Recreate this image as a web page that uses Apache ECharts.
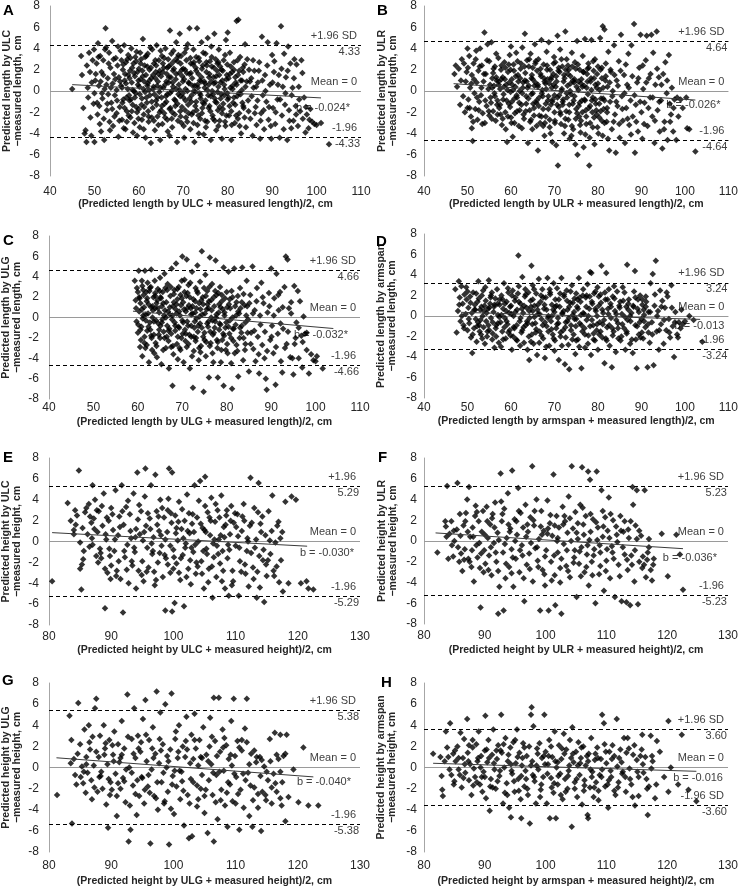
<!DOCTYPE html>
<html><head><meta charset="utf-8">
<script src="https://cdn.jsdelivr.net/npm/echarts@6/dist/echarts.min.js"></script>
<style>html,body{margin:0;padding:0;background:#fff}#c{width:741px;height:889px}</style>
</head><body><div id="c"></div>
<script>
// ---------- DATA ----------
const letters = ['A','B','C','D','E','F','G','H'];
const xTitles = [
 '(Predicted length by ULC + measured length)/2, cm',
 '(Predicted length by ULR + measured length)/2, cm',
 '(Predicted length by ULG + measured length)/2, cm',
 '(Predicted length by armspan + measured length)/2, cm',
 '(Predicted height by ULC + measured height)/2, cm',
 '(Predicted height by ULR + measured height)/2, cm',
 '(Predicted height by ULG + measured height)/2, cm',
 '(Predicted height by armspan + measured height)/2, cm'];
const yTitles = [
 'Predicted length by ULC\n\u2212measured length, cm',
 'Predicted length by ULR\n\u2212measured length, cm',
 'Predicted length by ULG\n\u2212measured length, cm',
 'Predicted length by armspan\n\u2212measured length, cm',
 'Predicted height by ULC\n\u2212measured height, cm',
 'Predicted height by ULR\n\u2212measured height, cm',
 'Predicted height by ULG\n\u2212measured height, cm',
 'Predicted height by armspan\n\u2212measured height, cm'];
const xRanges = [[40,110],[40,110],[40,110],[40,110],[80,130],[80,130],[80,130],[80,130]];
const yRange = [-8, 8];
const sdLabels = ['4.33','4.64','4.66','3.24','5.29','5.23','5.38','3.60'];
const upperLabels = ['+1.96 SD','+1.96 SD','+1.96 SD','+1.96 SD','+1.96','+1.96 SD','+1.96 SD','+1.96 SD'];
const lowerLabels = ['-1.96','-1.96','-1.96','-1.96','-1.96','-1.96','-1.96','-1.96 SD'];
const meanLabel = 'Mean = 0';
const slopeLabels = ['b = -0.024*','b = -0.026*','b = -0.032*','b = -0.013','b = -0.030*','b = -0.036*','b = -0.040*','b = -0.016'];

const regA = [[45,0.6],[101,-0.65]];
const regB = [[46.8,0.69],[102.4,-0.85]];
const regC = [[58.9,0.62],[104,-1.08]];
const regD = [[48.5,0.36],[103.5,-0.33]];
const regE = [[80.5,0.85],[121.5,-0.45]];
const regF = [[81.9,0.78],[122.6,-0.74]];
const regG = [[81.2,0.92],[122.5,-0.89]];
const regH = [[81.5,0.4],[124.8,-0.36]];

const ptsA = [[45,0.2],[47,3.3],[47.2,1.5],[47.5,-1.6],[47.8,-4.0],[48,-3.7],[48.2,-4.8],[48.3,2.4],[48.5,0.3],[48.6,-0.6],[48.8,3.6],[49,1.8],[49.1,-2.5],[49.3,-4.2],[49.4,0.8],[49.6,2.9],[49.8,-1.2],[49.9,3.9],[50,-0.2],[50,-4.8],[50.2,1.0],
[50.5,2.6],[50.7,-2.2],[50.8,4.5],[51,0.5],[51.1,-1.4],[51.3,3.3],[51.5,-3.8],[51.6,1.8],[51.8,-0.7],[52,2.9],[52.1,-2.6],[52.3,0.2],[52.5,5.9],[52.6,4.1],[52.8,-1.8],[53,1.2],[53.1,-0.3],[53.3,3.6],[53.4,-2.9],[53.6,2.2],[53.8,-1.1],[54,4.7],[54.1,0.7],[54.2,-3.3],[54.4,1.6],[54.6,-0.4],[54.8,3.1],[55,-2.1],[55,0.1],[55.2,2.4],
[55.4,-4.3],[55.5,1.3],[55.7,-1.5],[55.9,3.8],[56,0.5],[56.2,-2.7],[56.4,2.0],[56.5,-0.8],[56.7,4.3],[56.8,1.0],[57,-3.6],[57.1,2.7],[57.3,-1.9],[57.5,0.2],[57.6,3.4],[57.8,-0.4],[58,1.9],[58.1,-2.5],[58.3,4.0],[58.4,0.8],[58.6,-1.3],[58.8,2.6],[59,-3.0],[59.1,1.4],[59.3,-0.2],[59.5,3.7],[59.6,-4.2],[59.8,0.6],[60,2.1],[60,-1.7],
[60.2,-3.4],[60.4,1.1],[60.5,3.0],[60.7,-0.7],[60.9,4.9],[61,0.2],[61.1,-2.2],[61.3,2.4],[61.5,-4.4],[61.6,1.5],[61.8,-1.1],[62,3.5],[62,0.7],[62.2,-2.9],[62.4,2.0],[62.5,-0.4],[62.7,-4.9],[62.8,1.2],[63,3.9],[63.1,-1.6],[63.3,0.4],[63.4,2.6],[63.6,-3.7],[63.8,1.8],[63.9,-0.9],[64,4.3],[64.2,-2.4],[64.3,0.9],[64.5,2.9],[64.6,-0.1],[64.8,-4.6],[65,1.4],[65,-1.8],[65.2,3.3],
[65.3,-3.1],[65.5,0.3],[65.6,2.2],[65.8,-1.2],[66,4.0],[66.1,-0.5],[66.3,1.6],[66.4,-2.7],[66.6,3.0],[66.7,0.8],[66.9,-4.2],[67,5.7],[67.1,-1.6],[67.2,2.5],[67.4,0.0],[67.5,-3.4],[67.7,1.9],[67.8,3.8],[68,-0.8],[68.1,-2.2],[68.3,1.1],[68.4,4.6],[68.6,-4.8],[68.7,2.8],[68.9,-0.3],[69,0.6],[69.2,5.4],[69.3,-1.9],[69.5,3.3],[69.6,-3.0],[69.8,1.4],[70,-0.6],[70,2.1],[70.2,-4.4],
[70.3,3.6],[70.5,0.2],[70.6,-2.5],[70.8,1.7],[71,4.4],[71.1,-1.3],[71.3,0.7],[71.4,5.9],[71.6,-3.6],[71.7,2.6],[71.9,-0.4],[72,1.2],[72.2,-2.0],[72.3,3.9],[72.5,-4.8],[72.6,0.5],[72.8,2.2],[72.9,-1.0],[73.1,5.9],[73.2,-3.2],[73.4,1.6],[73.5,3.1],[73.7,-0.2],[73.8,-2.6],[74,0.9],[74.1,4.6],[74.3,-1.6],[74.4,2.4],[74.6,-4.1],[74.8,0.3],[75,3.5],[75,-0.9],
[75.2,1.8],[75.4,-2.9],[75.5,5.0],[75.7,0.6],[75.9,-1.4],[76,2.8],[76.2,-4.6],[76.3,4.2],[76.5,0.0],[76.6,-2.3],[76.8,1.3],[77,5.4],[77.1,-0.7],[77.3,3.0],[77.4,-3.7],[77.6,1.9],[77.8,-1.8],[77.9,0.4],[78,3.9],[78.2,-2.8],[78.3,2.3],[78.5,-0.3],[78.7,-4.5],[78.8,1.0],[79,-1.2],[79.1,2.9],[79.3,0.2],[79.5,-3.3],[79.6,4.8],[79.8,1.5],[80,-0.8],[80,5.5],
[80.3,-2.3],[80.5,3.6],[80.6,0.3],[80.8,-4.6],[81,1.8],[81.2,-1.1],[81.4,2.7],[81.6,-3.0],[81.8,0.8],[82,6.6],[82.1,-0.5],[82.3,1.5],[82.4,6.7],[82.6,-2.1],[82.8,3.2],[83,-4.0],[83.2,0.1],[83.4,2.2],[83.6,-1.6],[83.9,4.4],[84.1,-3.4],[84.3,0.9],[84.6,-0.9],[84.8,2.0],
[85.1,-2.6],[85.3,1.2],[85.6,-4.2],[85.8,0.3],[86,1.9],[86.3,-1.5],[86.5,-3.2],[86.8,0.8],[87,1.9],[87.3,-4.5],[87.5,-2.1],[87.7,5.1],[87.9,-0.4],[88.2,-3.6],[88.4,1.5],[88.7,-1.0],[89,4.6],[89.2,-2.7],[89.5,0.6],[89.8,-4.5],[90,3.4],
[90.2,-1.6],[90.5,2.8],[90.7,-3.1],[91,4.5],[91.2,-0.8],[91.5,1.5],[91.7,-4.4],[92,6.1],[92.2,-2.3],[92.4,0.4],[92.7,3.5],[92.9,-1.3],[93.1,1.3],[93.4,-4.6],[93.6,4.2],[93.8,-1.8],[94.1,2.6],[94.3,-3.5],[94.6,0.3],[94.8,-2.8],
[95,3.0],[95.3,-1.4],[95.5,2.5],[95.8,-3.3],[96,0.4],[96.3,-1.9],[96.6,2.9],[96.9,-2.6],[97.2,-0.6],[97.5,-3.9],[97.8,-2.2],[98.2,-3.5],[98.6,-1.7],[99,-2.9],[99.5,-3.1],[100,-3.2],[101,-3.0],[102.8,-5.0]];
const ptsA2 = [[50.3,1.6],[50.6,-1.1],[50.9,3.2],[51.2,-3.1],[51.4,0.9],[51.7,-0.2],[52,1.5],[52.2,-4.6],[52.4,3.9],[52.7,0.6],[52.9,-1.2],[53.2,2.6],[53.5,-3.7],[53.7,0.3],[54,-1.7],[54.3,3.0],[54.5,-2.4],[54.7,1.1],[55.1,-0.9],[55.3,4.2],
[55.6,-2.8],[55.8,0.9],[56.1,2.9],[56.3,-1.1],[56.6,-3.5],[56.9,1.6],[57.2,-0.6],[57.4,3.0],[57.7,-2.3],[57.9,1.2],[58.2,-0.8],[58.5,2.2],[58.7,-3.9],[58.9,0.0],[59.2,3.2],[59.4,-1.5],[59.7,1.8],[59.9,-2.6],[60.1,0.4],[60.3,3.6],
[60.6,-1.3],[60.8,1.9],[61.1,-3.6],[61.2,0.9],[61.4,3.2],[61.7,-0.6],[61.9,2.3],[62.1,-1.9],[62.3,0.1],[62.6,4.1],[62.9,-2.5],[63.2,1.5],[63.5,-0.3],[63.7,2.9],[64,-1.3],[64.1,0.5],[64.4,-3.2],[64.7,1.9],[64.9,3.8],[65.1,-0.6],
[65.4,2.6],[65.7,-2.1],[65.9,0.6],[66.2,-1.0],[66.4,2.2],[66.5,-3.8],[66.8,1.3],[67,-0.2],[67.3,3.5],[67.5,-2.0],[67.6,0.8],[67.9,2.1],[68.2,-1.4],[68.4,0.2],[68.6,3.1],[68.8,-2.8],[69.1,1.7],[69.3,-0.5],[69.4,2.6],[69.7,-1.5],
[69.9,0.9],[70.1,-3.3],[70.4,2.0],[70.5,-0.9],[70.7,4.0],[70.9,0.0],[71.2,-2.1],[71.4,1.6],[71.6,3.1],[71.8,-1.0],[72.1,0.5],[72.3,-3.0],[72.4,2.7],[72.7,-0.1],[72.9,1.9],[73,-1.8],[73.3,0.3],[73.5,-4.0],[73.6,2.8],[73.9,-0.7],
[74.1,1.3],[74.2,-2.1],[74.5,3.6],[74.7,-1.2],[74.9,0.7],[75.1,-3.4],[75.3,2.4],[75.6,-0.4],[75.8,1.3],[76.1,-1.9],[76.3,0.9],[76.4,3.2],[76.7,-0.3],[76.9,2.2],[77.1,-2.8],[77.2,0.8],[77.5,-1.1],[77.7,2.6],[77.9,-3.3],[78.1,1.5],
[78.4,-0.7],[78.6,2.0],[78.9,-1.7],[79.2,0.6],[79.4,3.4],[79.7,-2.3],[79.9,-0.2],[80.2,1.2],[80.4,-1.4],[80.7,2.3],[80.9,-3.2],[81.1,0.5],[81.4,-0.6],[81.7,1.3],[81.9,-2.3],[82.2,2.9],[82.5,-0.2],[82.7,-3.3],[82.9,1.0],[83.3,-1.1],
[83.5,1.8],[83.8,-2.5],[84,0.4],[84.4,3.0],[84.7,-1.9],[85,0.9],[85.4,-0.5],[85.7,2.9],[86.1,-2.1],[86.4,0.4],[86.7,-0.9],[87.1,2.7],[87.4,-2.8],[87.8,1.0],[88.1,-1.8],[88.5,0.0],[88.9,2.4],[89.3,-1.5],[89.7,-3.3],[90.1,0.8],
[90.4,1.8],[90.8,-2.0],[91.3,0.6],[91.8,-0.8],[92.1,2.1],[92.6,-3.6],[93,-0.2],[93.5,1.9],[93.9,-2.8],[94.4,-0.4],[94.9,1.2],[95.4,-2.2],[96.1,-0.8],[96.8,1.7],[97.6,-1.5],[98.4,-2.7]];
const ptsA3 = [[56.2,0.3],[56.5,2.5],[56.8,-1.6],[57.1,0.7],[57.3,-2.9],[57.6,1.5],[57.9,-0.9],[58.1,3.1],[58.4,-1.9],[58.6,0.1],[58.9,1.7],[59.1,-0.6],[59.4,2.8],[59.6,-2.0],[59.9,1.0],[60.2,-0.3],[60.4,2.6],[60.7,-2.7],[60.9,1.4],[61.2,-1.5],
[61.4,-0.1],[61.7,3.3],[61.9,0.5],[62.2,-2.4],[62.4,1.0],[62.7,2.2],[62.9,-1.0],[63.2,0.2],[63.4,-2.8],[63.7,1.2],[63.9,2.4],[64.2,-0.6],[64.4,1.6],[64.7,-2.0],[64.9,0.3],[65.2,-1.4],[65.4,1.8],[65.7,3.1],[65.9,-2.5],[66.2,0.9],
[66.4,-0.3],[66.7,2.3],[66.9,-1.7],[67.2,1.3],[67.4,-2.6],[67.7,0.4],[67.9,2.8],[68.2,-0.9],[68.4,1.6],[68.7,-1.2],[68.9,3.4],[69.2,0.1],[69.4,-2.4],[69.7,2.0],[69.9,-0.2],[70.2,1.1],[70.4,-1.8],[70.7,2.9],[70.9,-2.9],[71.2,0.8],
[71.4,-0.7],[71.7,1.7],[71.9,-2.2],[72.2,2.5],[72.4,0.0],[72.7,-1.4],[72.9,3.2],[73.2,0.6],[73.4,-2.3],[73.7,1.0],[73.9,-0.4],[74.2,2.1],[74.4,-1.1],[74.7,0.9],[74.9,-2.8],[75.2,2.7],[75.4,0.1],[75.7,-1.6],[75.9,1.6],[76.2,-0.5],
[76.4,2.3],[76.7,-2.6],[76.9,0.7],[77.2,-1.0],[77.4,1.4],[77.7,-0.1],[77.9,2.7],[78.2,-1.5],[78.4,0.8],[78.7,-2.1],[78.9,1.9],[79.2,-0.4],[79.4,-2.9],[79.7,1.1],[79.9,2.5],[80.2,-0.6],[80.5,1.6],[80.8,-1.9],[81.1,0.2],[81.4,2.0],
[81.7,-1.3],[82,0.6],[82.3,-2.6],[82.6,1.9],[82.9,-0.3],[83.2,1.0],[83.5,-1.4],[83.8,2.5]];

const ptsB = [[47,1.6],[47.3,2.4],[47.6,0.4],[48,2.1],[48.3,-1.3],[48.5,1.0],[48.7,3.0],[49,-0.5],[49.2,2.6],[49.4,-2.0],[49.6,0.9],[49.8,1.8],[50,-1.6],[50,4.0],
[50.2,-0.8],[50.4,3.3],[50.6,0.3],[50.8,-2.4],[51,1.5],[51,-3.5],[51.2,-4.7],[51.4,2.6],[51.6,-0.2],[51.8,-1.7],[52,3.8],[52.1,0.8],[52.3,-2.7],[52.5,1.9],[52.7,-1.0],[52.9,4.0],[53.1,-0.4],[53.3,2.4],[53.5,-2.1],[53.7,0.9],[53.9,5.5],[54,-3.0],[54.2,1.6],[54.4,-1.4],[54.6,4.4],[54.8,0.2],[55,-2.3],[55,2.8],
[55.3,-0.6],[55.5,4.6],[55.7,1.2],[55.9,-1.9],[56.1,0.5],[56.3,2.3],[56.5,-2.8],[56.7,1.0],[56.9,-0.9],[57.1,3.1],[57.3,-1.6],[57.5,0.2],[57.7,2.0],[57.9,-3.2],[58.1,1.3],[58.3,-0.3],[58.5,2.7],[58.7,-2.0],[58.9,0.6],[59.1,-4.8],[59.3,1.8],[59.5,-1.2],[59.7,3.4],[59.9,-0.1],[60,4.2],[60,-2.5],
[60.2,1.1],[60.4,-4.3],[60.6,2.5],[60.8,-0.7],[61,0.4],[61.2,3.6],[61.4,-1.9],[61.6,1.5],[61.8,-3.3],[62,0.0],[62.2,2.1],[62.4,-1.3],[62.6,4.1],[62.8,0.8],[63,-2.6],[63.2,5.4],[63.3,1.7],[63.5,-0.5],[63.7,2.9],[63.9,-4.9],[64.1,0.5],[64.3,-1.8],[64.5,3.5],[64.7,1.2],[64.9,-3.6],[65,-0.2],[65,2.2],
[65.3,-2.3],[65.5,4.4],[65.6,0.8],[65.8,-1.1],[66,1.9],[66.2,-5.6],[66.3,3.0],[66.5,-0.6],[66.7,-3.0],[66.9,1.4],[67,4.8],[67.2,0.1],[67.4,-1.7],[67.5,2.5],[67.7,-4.2],[67.9,0.7],[68,-2.4],[68.2,3.7],[68.4,1.1],[68.5,-0.9],[68.7,4.6],[68.9,-3.4],[69,2.0],[69.2,-1.3],[69.4,0.3],[69.5,-4.8],[69.7,1.6],[69.9,3.2],[70,-0.4],[70,-2.0],
[70.2,2.7],[70.4,-5.1],[70.5,0.9],[70.7,5.2],[70.8,-7.0],[71,-1.5],[71.2,1.8],[71.3,3.9],[71.5,-3.1],[71.7,0.2],[71.8,2.3],[72,-0.8],[72.2,-4.0],[72.3,1.2],[72.5,5.6],[72.7,-1.9],[72.8,3.0],[73,0.5],[73.2,-2.7],[73.3,2.0],[73.5,-4.5],[73.7,1.4],[73.8,-0.3],[74,3.6],[74.2,-1.2],[74.3,-3.6],[74.5,0.8],[74.7,2.7],[74.8,-5.0],[75,-1.7],
[75.2,4.7],[75.3,-6.0],[75.5,0.1],[75.7,-2.4],[75.8,2.0],[76,-3.9],[76.2,1.1],[76.3,-0.9],[76.5,3.3],[76.7,-5.3],[76.8,0.5],[77,4.9],[77.2,-1.8],[77.3,-3.1],[77.5,1.6],[77.7,-0.3],[77.8,2.6],[78,-7.0],[78.1,-4.4],[78.3,0.9],[78.5,4.8],[78.7,-2.0],[78.8,-0.6],[79,1.9],[79.2,-5.0],[79.3,3.0],[79.5,-1.2],[79.7,0.3],[79.9,-3.4],[80,2.3],
[80.3,-2.5],[80.5,5.0],[80.7,-0.7],[80.9,1.2],[81.1,6.1],[81.1,-4.2],[81.3,-1.7],[81.5,5.8],[81.8,2.6],[82,-2.9],[82.2,0.4],[82.4,3.7],[82.6,-5.6],[82.8,-1.0],[83,1.8],[83.2,-3.6],[83.4,0.0],[83.7,4.3],[83.9,-2.2],[84.1,-5.8],[84.3,1.0],[84.5,-1.4],[84.8,2.8],[85,-4.4],
[85.3,5.3],[85.5,-0.5],[85.7,-2.8],[86,1.5],[86.2,-4.9],[86.5,-1.6],[86.7,0.6],[87,3.5],[87.2,-3.2],[87.5,-0.9],[87.7,4.3],[88,-2.4],[88.3,6.3],[88.5,-5.8],[88.7,-1.3],[89,0.8],[89.2,-3.8],[89.5,2.2],[89.8,5.3],[90,-2.0],
[90.2,-4.5],[90.4,0.2],[90.7,-1.1],[91,2.9],[91.2,5.2],[91.4,-3.3],[91.7,1.2],[92,-0.6],[92.3,5.3],[92.5,-2.4],[92.7,3.6],[93,-4.9],[93.2,0.6],[93.5,5.6],[93.7,-1.8],[94,1.3],[94.2,-3.8],[94.5,-0.9],[94.8,-5.4],[95,1.6],
[95.3,-2.9],[95.5,2.7],[95.8,-0.2],[96,-4.6],[96.3,3.4],[96.5,-1.2],[96.8,-2.2],[97,0.3],[97.3,-3.8],[97.6,-0.8],[98,-4.6],[98.5,-2.4],[99,-0.8],[99.5,-1.6],[100.3,-0.6],[100.5,-3.5],[101,-3.6],[102.4,-5.7]];
const ptsB2 = [[50.1,2.2],[50.5,-1.6],[50.9,0.7],[51.3,-2.9],[51.5,1.1],[51.9,3.0],[52.2,-0.6],[52.6,-1.8],[52.8,2.3],[53.2,0.3],[53.4,-3.1],[53.8,1.6],[54.1,-0.9],[54.5,2.9],[54.9,-1.9],[55.2,0.6],[55.6,-2.6],[55.9,1.7],[56.2,-0.2],[56.6,3.5],
[56.8,-1.3],[57.2,0.9],[57.6,-2.2],[57.8,2.4],[58.2,-0.8],[58.6,1.1],[58.8,-3.6],[59.2,0.1],[59.5,2.5],[59.8,-1.5],[60.1,-3.0],[60.3,0.6],[60.7,1.9],[60.9,-2.1],[61.3,-0.4],[61.5,2.8],[61.9,-1.1],[62.1,1.2],[62.5,-3.5],[62.7,0.3],
[63.1,2.3],[63.4,-1.9],[63.6,0.9],[64,-0.7],[64.2,3.0],[64.6,-2.7],[64.8,1.5],[65.1,-1.2],[65.4,0.5],[65.7,2.8],[65.9,-3.3],[66.2,0.6],[66.4,-1.4],[66.8,2.1],[67,-2.4],[67.3,-0.5],[67.6,1.2],[67.8,-3.0],[68.1,0.2],[68.3,2.4],
[68.6,-1.7],[68.8,0.7],[69.1,-4.0],[69.3,1.3],[69.6,-0.8],[69.8,2.6],[70.1,-2.8],[70.3,0.4],[70.6,-1.3],[70.9,1.9],[71.1,-0.4],[71.4,-2.2],[71.6,3.0],[71.9,-1.3],[72.1,0.9],[72.4,-3.3],[72.6,2.0],[72.9,-0.6],[73.1,1.6],[73.4,-2.0],
[73.6,0.0],[73.9,-4.2],[74.1,2.3],[74.4,-0.9],[74.6,1.1],[74.9,-2.6],[75.1,0.4],[75.4,2.5],[75.6,-1.4],[75.9,-3.2],[76.1,0.7],[76.4,-2.0],[76.6,1.8],[76.9,-0.8],[77.1,-4.1],[77.4,0.3],[77.6,2.1],[77.9,-1.6],[78.2,-3.0],[78.4,1.2],
[78.6,-0.9],[78.9,2.8],[79.1,-2.5],[79.4,0.6],[79.6,-1.8],[79.8,1.6],[80.1,-4.0],[80.4,0.1],[80.6,-1.9],[80.9,2.2],[81.2,-0.7],[81.5,-3.0],[81.7,1.0],[82.1,-1.6],[82.3,-4.5],[82.7,0.8],[82.9,2.0],[83.3,-0.5],[83.6,-2.9],[83.8,1.5],
[84.2,-1.0],[84.6,0.5],[84.9,-3.1],[85.2,1.9],[85.6,-1.7],[86.1,-0.2],[86.4,2.5],[86.8,-2.6],[87.1,0.3],[87.6,-4.1],[87.9,1.4],[88.4,-0.4],[88.8,-2.9],[89.3,1.2],[89.7,-1.0],[90.3,2.4],[90.6,-3.1],[91.1,0.8],[91.6,-1.6],[92.1,1.6],
[92.6,-0.6],[93.1,-2.8],[93.6,2.1],[94.1,-1.0],[94.6,0.6],[95.2,-3.6],[95.9,1.0],[96.6,-2.9],[97.4,-1.6],[98.2,-0.6]];
const ptsB3 = [[55.4,-1.1],[55.7,0.3],[56,2.1],[56.3,-0.5],[56.6,1.3],[56.9,-2.2],[57.2,0.6],[57.5,-1.3],[57.8,1.1],[58.1,-2.6],[58.4,0.4],[58.7,2.2],[59,-0.9],[59.3,-2.4],[59.6,0.8],[59.9,2.0],[60.2,-1.0],[60.5,0.1],[60.8,-3.0],[61.1,1.4],
[61.4,-0.6],[61.7,0.9],[62,-1.8],[62.3,2.6],[62.6,-0.2],[62.9,-2.2],[63.2,1.0],[63.5,-1.2],[63.8,0.3],[64.1,2.3],[64.4,-2.9],[64.7,-0.3],[65,1.1],[65.3,-1.6],[65.6,2.6],[65.9,-0.9],[66.2,0.4],[66.5,-2.3],[66.8,1.6],[67.1,-0.2],
[67.4,-3.3],[67.7,0.9],[68,-1.2],[68.3,2.0],[68.6,-0.5],[68.9,-2.7],[69.2,1.1],[69.5,-1.0],[69.8,0.6],[70.1,-3.0],[70.4,1.4],[70.7,-0.6],[71,2.2],[71.3,-2.0],[71.6,0.0],[71.9,-1.0],[72.2,1.5],[72.5,-2.6],[72.8,-0.2],[73.1,2.4],
[73.4,-1.3],[73.7,0.7],[74,-3.3],[74.3,1.0],[74.6,-0.5],[74.9,2.1],[75.2,-2.1],[75.5,0.9],[75.8,-1.1],[76.1,-2.8],[76.4,0.4],[76.7,1.8],[77,-0.9],[77.3,-2.4],[77.6,0.9],[77.9,2.2],[78.2,-1.4],[78.5,0.1],[78.8,-3.4],[79.1,1.2],
[79.4,-0.8],[79.7,-2.2],[80,0.7],[80.3,-1.2],[80.6,2.0],[80.9,-2.8],[81.2,0.3],[81.5,-0.9],[81.8,1.4],[82.1,-2.0]];

const ptsC = [[59.3,3.6],[59.5,1.7],[59.7,-0.4],[60,2.5],[60,-1.5],[60.2,4.6],[60.3,0.6],[60.5,-2.9],[60.6,1.4],[60.8,-0.9],[61,3.1],[61,-3.8],[61.2,0.2],[61.3,2.2],[61.5,-1.9],[61.6,4.6],[61.8,-0.3],[62,1.6],[62,-2.7],[62.2,3.4],
[62.3,0.4],[62.5,-4.4],[62.6,2.6],[62.8,-1.2],[63,1.0],[63,4.7],[63.2,-3.2],[63.3,0.0],[63.5,2.0],[63.6,-1.7],[63.8,3.6],[63.9,0.9],[64,-2.5],[64.2,1.4],[64.3,-3.9],[64.5,2.8],[64.6,-0.6],[64.8,0.5],[65,3.9],[65,-2.0],
[65.2,1.9],[65.3,-4.6],[65.5,-0.2],[65.6,2.5],[65.8,-1.4],[66,4.3],[66.1,0.7],[66.3,-3.0],[66.4,1.5],[66.6,-0.8],[66.7,3.3],[66.9,-2.3],[67,-5.0],[67.2,0.3],[67.3,2.1],[67.5,-1.6],[67.6,4.8],[67.8,-6.7],[67.9,1.1],[68,-3.6],[68.2,2.7],[68.3,-0.5],[68.5,0.8],[68.6,5.3],[68.8,-2.6],[68.9,1.8],[69,-4.1],[69.2,3.0],[69.3,-1.0],[69.5,0.2],[69.6,2.2],[69.8,-2.0],[70,6.0],[70,-0.3],
[70.2,1.5],[70.3,-4.4],[70.5,3.7],[70.6,-1.2],[70.8,0.6],[71,5.7],[71,-2.9],[71.2,2.4],[71.3,-0.8],[71.5,1.2],[71.7,-5.0],[71.8,3.4],[72,-1.9],[72,0.3],[72.2,4.5],[72.4,-6.9],[72.5,1.8],[72.6,-3.3],[72.8,-0.4],[73,2.9],[73,-2.3],[73.2,0.9],[73.4,5.1],[73.5,-1.4],[73.7,-4.2],[73.8,1.4],[74,3.5],[74,-0.6],[74.2,-2.8],[74.4,6.5],[74.5,0.3],[74.6,2.0],[74.8,-7.3],[75,-1.5],
[75.2,4.2],[75.3,-3.8],[75.5,0.8],[75.6,2.6],[75.8,-0.9],[76,-5.9],[76,1.6],[76.2,5.9],[76.4,-2.5],[76.5,0.0],[76.7,3.3],[76.9,-1.7],[77,-4.4],[77.2,1.1],[77.4,-0.4],[77.5,5.6],[77.7,2.2],[77.9,-3.0],[78,-5.9],[78.2,0.5],[78.3,-1.2],[78.5,3.0],[78.7,-4.4],[78.9,1.6],[79,-2.2],[79.3,-6.7],[79.3,4.9],[79.5,0.2],[79.7,-1.0],[80,2.5],
[80.2,-3.5],[80.4,4.5],[80.6,-1.6],[80.8,0.9],[81,-4.5],[81.2,-7.0],[81.3,2.0],[81.5,-2.3],[81.7,4.8],[82,-0.7],[82.2,1.5],[82.4,-3.3],[82.6,-5.8],[82.8,0.4],[83,2.9],[83.3,-1.5],[83.5,4.9],[83.7,-4.2],[84,1.2],[84.2,-2.6],[84.5,3.6],[84.8,-0.2],
[85,-5.3],[85.3,2.2],[85.5,-1.5],[85.8,5.0],[86,-3.1],[86.3,0.7],[86.5,-4.3],[86.8,2.9],[87,-1.9],[87.3,-5.5],[87.5,0.2],[87.8,3.4],[88,-2.7],[88.3,1.4],[88.5,-4.0],[88.8,-6.0],[89,-7.1],[89.2,0.5],[89.5,2.4],[89.8,-2.2],[90,4.8],
[90.2,-0.8],[90.5,-3.5],[90.7,1.9],[91,-6.6],[91.2,4.3],[91.5,-1.6],[91.7,0.7],[92,2.5],[92.2,-4.3],[92.5,-5.4],[92.7,-1.1],[93,3.0],[93.3,6.0],[93.5,-2.6],[93.7,5.7],[94,0.9],[94.3,-3.9],[94.5,1.5],[94.8,-4.0],[95,-5.6],
[95.2,3.1],[95.5,-2.0],[95.7,-0.5],[96,2.6],[96.2,-4.0],[96.5,1.6],[96.8,-1.8],[97,-4.9],[97.3,0.1],[97.6,-1.6],[98,-3.2],[98.5,-5.5],[99,-3.6],[99.5,-4.2],[100,-4.3],[100.3,-3.8],[101.6,-5.0]];
const ptsC2 = [[59.6,0.9],[59.8,2.9],[60.1,-0.7],[60.4,1.9],[60.7,-2.2],[60.9,3.6],[61.1,-0.1],[61.4,1.0],[61.7,-3.0],[61.9,2.5],[62.1,-1.3],[62.4,1.3],[62.7,-0.5],[62.9,3.0],[63.1,-2.0],[63.4,0.7],[63.7,-3.5],[63.9,2.1],[64.1,-0.3],[64.4,1.7],
[64.7,-1.7],[64.9,2.6],[65.1,-0.8],[65.4,1.1],[65.7,-3.2],[65.9,0.2],[66.2,2.9],[66.5,-1.9],[66.8,0.6],[67.1,-1.1],[67.4,3.0],[67.7,-0.2],[67.9,-2.8],[68.1,1.5],[68.4,-1.3],[68.7,0.4],[68.9,2.8],[69.1,-0.9],[69.4,-3.0],[69.7,1.2],
[69.9,3.6],[70.1,-1.6],[70.4,0.8],[70.7,-2.3],[70.9,2.1],[71.1,-0.4],[71.4,3.2],[71.6,-1.7],[71.9,0.9],[72.2,-3.8],[72.3,1.1],[72.7,-1.0],[72.9,0.5],[73.1,-2.0],[73.3,2.6],[73.6,-0.8],[73.9,0.1],[74.1,-3.4],[74.3,1.7],[74.7,-1.9],
[74.9,2.9],[75.1,0.4],[75.4,-2.4],[75.7,1.3],[75.9,-0.4],[76.1,3.0],[76.3,-1.4],[76.6,0.7],[76.8,-3.5],[77.1,2.0],[77.3,-1.0],[77.6,0.0],[77.8,-2.2],[78.1,2.4],[78.4,-0.6],[78.6,1.0],[78.8,-3.2],[79.1,0.8],[79.4,-1.8],[79.6,1.9],
[79.9,-0.5],[80.1,-2.6],[80.5,1.3],[80.7,-0.3],[81.1,2.6],[81.4,-1.1],[81.8,-3.5],[82.1,0.2],[82.5,2.1],[82.9,-2.0],[83.1,0.9],[83.4,-0.8],[83.8,2.3],[84.1,-3.2],[84.4,0.2],[84.7,-1.5],[85.1,1.4],[85.4,-2.6],[85.9,0.4],[86.2,-1.3],
[86.7,1.6],[87.2,-3.6],[87.6,-0.7],[88.1,2.0],[88.6,-1.4],[89.1,-3.3],[89.6,1.1],[90.1,-1.9],[90.6,0.2],[91.1,-2.9],[91.6,2.2],[92.1,-0.6],[92.6,1.0],[93.1,-3.0],[93.8,-1.4],[94.5,0.4],[95.3,-2.6],[96.2,-1.0],[97.1,-2.4],[98,-1.5]];
const ptsC3 = [[60.3,2.0],[60.6,-1.2],[60.9,0.8],[61.2,2.7],[61.5,-2.5],[61.8,0.3],[62.1,1.9],[62.4,-0.9],[62.7,2.9],[63,-1.8],[63.3,1.1],[63.6,-0.4],[63.9,2.4],[64.2,-2.8],[64.5,0.9],[64.8,-1.2],[65.1,2.0],[65.4,-0.5],[65.7,1.4],[66,-2.0],
[66.3,0.0],[66.6,2.7],[66.9,-1.3],[67.2,1.0],[67.5,-2.9],[67.8,0.2],[68.1,2.3],[68.4,-0.8],[68.7,1.3],[69,-1.9],[69.3,0.6],[69.6,-3.2],[69.9,1.9],[70.2,-0.5],[70.5,2.5],[70.8,-1.6],[71.1,0.9],[71.4,-2.6],[71.7,2.0],[72,-0.8],
[72.3,0.4],[72.6,-1.9],[72.9,1.6],[73.2,-0.1],[73.5,2.4],[73.8,-3.0],[74.1,0.8],[74.4,-1.0],[74.7,1.3],[75,-2.2],[75.3,2.1],[75.6,-0.6],[75.9,0.9],[76.2,-2.8],[76.5,1.7],[76.8,-0.3],[77.1,-1.5],[77.4,2.6],[77.7,0.3],[78,-2.4],
[78.3,1.3],[78.6,-0.7],[78.9,2.2],[79.2,-1.6],[79.5,0.5],[79.8,-3.2],[80.1,1.0],[80.4,-0.9],[80.7,1.8],[81,-2.0],[81.3,0.0],[81.6,-1.1],[81.9,1.1],[82.2,-2.7],[82.6,0.6],[83,-1.0],[83.4,1.5],[83.8,-2.0],[84.2,-0.5],[84.6,1.1]];

const ptsD = [[47.2,2.6],[47.5,-1.6],[47.8,0.5],[48,3.4],[48.2,1.8],[48.4,-0.5],[48.6,2.9],[48.9,1.2],[49.1,-0.9],[49.3,2.1],[49.6,0.2],[49.8,1.6],[50,-1.4],[50,2.4],
[50.2,0.8],[50.4,-0.7],[50.6,1.9],[50.8,-2.1],[51,0.3],[51.1,-3.6],[51.3,2.3],[51.5,-1.2],[51.7,1.1],[51.9,-0.3],[52.1,-2.5],[52.3,1.4],[52.5,3.4],[52.7,-0.9],[52.9,0.6],[53.1,-1.8],[53.3,2.0],[53.5,0.0],[53.7,-1.1],[53.9,1.0],[54.1,2.8],[54.3,-0.5],[54.5,-2.0],[54.7,0.7],[54.9,3.5],[55,-1.4],
[55.2,1.2],[55.4,-0.2],[55.6,2.3],[55.8,-1.7],[56,0.4],[56.2,-3.1],[56.4,1.7],[56.6,-0.9],[56.8,2.6],[57,0.1],[57.2,-2.6],[57.4,1.1],[57.6,-0.6],[57.8,2.0],[58,-1.5],[58.2,0.7],[58.4,3.2],[58.6,-0.2],[58.8,-2.2],[59,1.4],[59.2,-0.8],[59.4,2.3],[59.6,0.3],[59.9,-1.9],[60,1.0],
[60.2,-3.3],[60.4,2.5],[60.6,0.0],[60.8,-1.2],[61,1.8],[61.2,-2.3],[61.4,0.6],[61.7,5.9],[61.8,2.9],[62,-0.5],[62.2,1.2],[62.4,-1.6],[62.6,3.8],[62.8,0.3],[63,-2.6],[63.2,1.9],[63.4,-0.9],[63.6,0.8],[63.8,-3.3],[64,2.3],[64.2,-4.3],[64.3,-0.2],[64.5,1.5],[64.7,4.9],[64.8,-1.8],[65,0.5],[65,3.0],
[65.2,-2.7],[65.4,1.0],[65.6,-0.7],[65.8,2.2],[66,-3.8],[66.2,0.2],[66.4,3.6],[66.6,-1.5],[66.8,1.4],[67,-0.3],[67.2,2.6],[67.4,-2.2],[67.6,0.7],[67.8,-4.1],[68,1.8],[68.2,-1.0],[68.4,3.7],[68.6,0.0],[68.8,-2.9],[69,2.1],[69.2,-0.5],[69.4,1.1],[69.6,-1.8],[69.8,3.2],[70,0.4],[70,-3.4],
[70.2,1.6],[70.4,-1.2],[70.6,2.7],[70.8,-0.2],[71,-4.3],[71.2,0.9],[71.4,-2.0],[71.6,3.7],[71.8,0.3],[72,-1.4],[72.2,1.9],[72.4,-4.7],[72.6,-0.6],[72.8,2.5],[73,0.6],[73.2,-2.8],[73.4,-5.2],[73.6,1.3],[73.8,-0.9],[74,3.0],[74.2,0.1],[74.4,-1.8],[74.6,1.7],[74.8,-3.7],[75,-0.3],[75,2.2],
[75.2,0.9],[75.4,-2.3],[75.6,3.7],[75.8,-0.7],[76,1.4],[76.2,-5.1],[76.4,-1.5],[76.6,2.6],[76.8,0.2],[77,-3.1],[77.2,1.8],[77.4,-0.4],[77.6,3.1],[77.8,-1.9],[78,0.7],[78.2,4.3],[78.4,-3.8],[78.5,4.2],[78.7,1.2],[78.9,-0.9],[79.1,2.2],[79.3,-2.4],[79.5,0.5],[79.7,-1.4],[79.9,2.8],[80,-3.3],
[80.2,1.0],[80.4,-0.6],[80.6,2.1],[80.8,4.9],[81,-2.1],[81.2,0.3],[81.5,-4.6],[81.7,1.6],[81.9,4.2],[82.1,-1.1],[82.3,0.7],[82.5,2.6],[82.7,-2.9],[83,-0.2],[83.2,-5.0],[83.4,1.9],[83.6,-1.5],[83.9,0.5],[84.1,-3.5],[84.4,2.4],[84.6,-0.7],[84.9,1.0],
[85.2,-2.4],[85.5,0.2],[85.7,2.8],[86,-1.2],[86.3,-3.3],[86.5,0.9],[86.7,5.0],[86.8,-0.4],[87.1,1.6],[87.4,-2.7],[87.7,0.3],[88,-3.6],[88.3,2.4],[88.5,4.4],[88.6,-0.9],[88.9,-5.1],[89.1,0.7],[89.4,-1.8],[89.7,2.0],[90,-0.3],
[90.2,1.1],[90.4,-2.2],[90.6,0.1],[90.9,-1.1],[91.1,1.4],[91.4,-5.0],[91.6,0.4],[91.9,-2.6],[92.1,3.2],[92.4,-0.6],[92.6,4.1],[92.8,-4.8],[93,1.0],[93.3,5.4],[93.5,-1.5],[93.8,0.5],[94,-3.3],[94.3,2.5],[94.5,-0.8],[94.8,1.5],
[95.1,-2.7],[95.4,0.8],[95.7,-1.4],[96,1.9],[96.3,-0.3],[96.6,-2.1],[96.9,3.0],[97.2,-1.0],[97.5,-4.0],[97.8,0.4],[98.2,-1.8],[98.6,-0.6],[99,-1.2],[99.5,-0.8],[100,-0.5],[101,0.0],[102,-0.4],[104,-2.5]];
const ptsD2 = [[48.1,1.1],[48.7,0.0],[49.2,-1.2],[49.7,2.8],[50.3,-0.3],[50.7,1.3],[51.2,-1.8],[51.6,0.6],[52,2.2],[52.4,-0.6],[52.8,-1.5],[53.2,0.9],[53.6,2.5],[54,-2.7],[54.4,0.3],[54.8,-0.9],[55.3,1.8],[55.7,-2.3],[56.1,0.9],[56.5,-1.2],
[56.9,1.2],[57.3,-0.1],[57.7,-3.0],[58.1,1.6],[58.5,-1.1],[58.9,0.5],[59.3,2.7],[59.7,-1.4],[60.1,0.2],[60.5,-2.0],[60.9,1.5],[61.3,-0.9],[61.6,2.2],[62.1,-2.9],[62.5,0.7],[62.9,-1.1],[63.3,2.6],[63.7,-0.5],[64.1,-2.0],[64.6,0.9],
[64.9,-0.8],[65.3,2.6],[65.7,-1.6],[66.1,0.6],[66.5,-2.6],[66.9,2.0],[67.3,-0.9],[67.7,1.1],[68.1,-3.0],[68.5,-0.2],[68.9,2.6],[69.3,-1.3],[69.7,0.6],[70.1,-2.4],[70.5,1.0],[70.9,-0.7],[71.3,2.2],[71.7,-2.9],[72.1,0.5],[72.5,-1.1],
[72.9,1.5],[73.3,-0.2],[73.7,2.4],[74.1,-2.3],[74.5,0.4],[74.9,-1.0],[75.3,1.6],[75.7,-3.0],[76.1,0.1],[76.5,2.0],[76.9,-1.2],[77.3,0.9],[77.7,-2.7],[78.1,1.9],[78.6,-0.4],[79,-1.7],[79.4,2.4],[79.8,0.0],[80.3,-1.8],[80.7,1.3],
[81.1,-0.8],[81.6,2.3],[82,-2.4],[82.4,0.2],[82.9,1.2],[83.3,-1.2],[83.7,2.9],[84.2,-0.4],[84.7,-2.2],[85.1,1.4],[85.6,-0.8],[86.1,2.3],[86.6,-1.7],[87,0.6],[87.5,-0.5],[88.1,1.0],[88.7,-2.3],[89.2,1.6],[89.6,-0.6],[90.1,-1.6],
[90.5,0.6],[91,1.9],[91.5,-0.8],[92,0.4],[92.5,-1.8],[93.1,2.1],[93.6,0.0],[94.1,-1.4],[94.6,0.9],[95.2,-0.4],[95.8,2.3],[96.4,-1.6],[97,0.8],[97.7,-0.6],[98.4,-2.1],[99.2,0.6]];
const ptsD3 = [[51.8,0.6],[52.2,-1.0],[52.6,1.7],[53,-0.4],[53.4,-2.2],[53.8,0.5],[54.2,1.5],[54.6,-1.5],[55,0.8],[55.4,2.0],[55.8,-0.6],[56.2,1.1],[56.6,-2.0],[57,-0.7],[57.4,1.6],[57.8,0.1],[58.2,-2.3],[58.6,1.2],[59,-0.5],[59.4,-1.6],
[59.8,0.9],[60.2,2.0],[60.6,-1.1],[61,0.4],[61.4,-2.4],[61.8,1.4],[62.2,-0.2],[62.6,-1.4],[63,1.0],[63.4,2.1],[63.8,-0.7],[64.2,0.5],[64.6,-2.5],[65,1.6],[65.4,-0.1],[65.8,-1.3],[66.2,1.1],[66.6,0.2],[67,-1.9],[67.4,1.8],
[67.8,-0.6],[68.2,0.6],[68.6,-1.5],[69,2.3],[69.4,0.0],[69.8,-2.2],[70.2,0.9],[70.6,-0.8],[71,1.6],[71.4,-1.6],[71.8,0.2],[72.2,2.1],[72.6,-2.1],[73,-0.5],[73.4,0.9],[73.8,-1.4],[74.2,1.3],[74.6,-0.3],[75,-2.4],[75.4,0.7],
[75.8,1.8],[76.2,-0.9],[76.6,0.3],[77,-1.8],[77.4,2.0],[77.8,0.0],[78.2,-1.0],[78.6,1.4],[79,-2.3],[79.4,0.7],[79.8,-0.8],[80.2,1.9],[80.6,-1.5],[81,0.6],[81.4,-0.4],[81.8,-2.2],[82.2,1.6],[82.6,-0.9],[83,0.9],[83.4,-1.9],
[83.8,1.7],[84.2,0.2],[84.6,-1.2],[85,0.8],[85.4,-2.0],[85.8,1.5],[86.2,-0.1],[86.6,-1.5],[87,1.2],[87.4,0.0],[87.8,-2.3],[88.2,0.9],[88.6,1.8],[89,-1.0],[89.4,0.4],[89.8,-2.1],[90.2,1.6],[90.6,-0.5],[91,0.9],[91.6,-1.6]];

const ptsE = [[80.5,-3.8],[83,3.7],[83.5,2.0],[84,1.1],[84,0.7],[84.2,3.0],[84.5,2.5],[84.8,6.8],[85,-0.1],[85,-2.6],[85.2,-4.6],[85.4,1.3],[85.5,-1.7],[85.6,-0.9],
[86,3.2],[86.2,0.7],[86.4,3.6],[86.6,2.4],[86.8,1.8],[87,-0.3],[87,5.4],[87.2,2.2],[87.4,4.0],[87.6,-1.4],[87.8,0.9],[88,2.9],[88.2,-0.7],[88.4,-1.6],[88.6,1.5],[88.8,4.6],[89,-2.6],[89,-6.4],[89.2,0.2],[89.4,-3.0],[89.6,2.0],[89.8,-1.4],[90,3.2],[90,-2.3],
[90.3,1.1],[90.5,-0.9],[90.7,4.9],[90.9,-2.8],[91.1,0.6],[91.3,2.4],[91.5,-3.6],[91.7,5.4],[91.9,-6.8],[92.0,1.6],[92.2,-1.5],[92.4,3.3],[92.6,-0.3],[92.8,-4.0],[93,2.6],[93.2,0.3],[93.4,-2.3],[93.6,4.6],[93.8,-1.0],[94,1.2],[94,-4.5],[94.2,6.6],[94.4,-2.8],[94.6,0.7],[94.8,2.9],[95,-1.9],
[95.2,-3.8],[95.4,4.3],[95.5,7.0],[95.6,1.5],[95.8,-0.6],[96,-2.5],[96.2,2.2],[96.4,5.4],[96.6,-1.2],[96.8,0.4],[97,-4.2],[97.1,6.4],[97.3,2.9],[97.5,-2.0],[97.7,1.0],[97.9,4.0],[98.1,-0.4],[98.3,-3.4],[98.5,2.3],[98.7,-6.6],[98.8,-1.6],[99,0.9],[99.2,4.1],[99.3,7.0],[99.5,-3.0],[99.7,1.8],[99.8,6.6],[99.8,-6.7],[100,-0.8],
[100.2,-5.9],[100.3,2.5],[100.5,-2.1],[100.7,0.1],[100.9,3.8],[101.1,-3.7],[101.3,1.2],[101.5,-1.3],[101.7,-6.2],[101.8,2.0],[102,-0.2],[102.2,4.5],[102.4,-2.6],[102.6,0.8],[102.8,-4.1],[103,1.7],[103.2,-1.0],[103.4,5.4],[103.6,-3.1],[103.8,2.3],[104,0.0],[104.3,5.8],[104.5,-1.9],[104.7,1.3],[104.9,-4.5],[105.1,6.2],[105.1,3.4],
[105.3,-0.7],[105.5,2.8],[105.7,-2.6],[105.9,0.6],[106.1,4.2],[106.3,-5.4],[106.5,-1.5],[106.7,1.9],[106.9,-3.4],[107.1,3.0],[107.3,0.2],[107.5,-2.1],[107.7,4.4],[107.9,-0.9],[108.1,1.4],[108.3,-4.5],[108.5,2.5],[108.7,-1.6],[108.9,-5.2],[109.1,0.7],[109.3,3.4],[109.5,-2.8],[109.7,1.8],[110,-0.4],
[110.3,2.6],[110.5,-5.2],[110.7,-1.9],[111,1.0],[111.3,3.6],[111.6,-3.1],[111.9,0.3],[112.1,-4.3],[112.4,6.1],[112.6,1.8],[112.8,-2.5],[113.1,-0.6],[113.4,-5.4],[113.6,2.8],[113.7,5.6],[113.9,-4.4],[114.1,0.9],[114.4,-1.8],[114.6,-5.8],[114.8,0.6],[115,-3.3],
[115.3,2.9],[115.6,-1.2],[115.9,4.4],[116.1,-2.8],[116.4,-0.1],[116.7,1.5],[117,-3.9],[117.3,-1.8],[117.5,0.9],[117.6,-4.8],[118,3.8],[118.5,-4.0],[119,4.3],[119.7,4.0],[120.5,-4.0],[121.4,-3.8],[121.7,-4.5],[122.5,-4.6]];
const ptsE2 = [[84.3,1.6],[85.3,-2.2],[85.8,2.8],[86.5,-0.5],[87.3,1.2],[87.9,-2.0],[88.5,3.4],[89.1,0.7],[89.7,-0.7],[90.2,2.6],[90.8,-3.3],[91.4,1.4],[92.1,-0.9],[92.7,3.9],[93.3,-1.9],[93.9,0.4],[94.3,2.1],[94.9,-3.2],[95.3,0.9],[95.9,2.7],
[96.5,-0.2],[96.9,-2.9],[97.4,1.6],[97.8,-1.1],[98.2,3.2],[98.7,0.2],[99.1,-2.2],[99.6,2.7],[100.1,-1.5],[100.5,1.3],[100.9,-3.0],[101.4,3.1],[101.9,-0.6],[102.3,1.0],[102.7,-1.8],[103.1,2.6],[103.5,-0.3],[103.9,-2.4],[104.4,1.7],[104.8,-0.9],
[105.2,0.9],[105.6,-3.9],[106,2.0],[106.4,-0.2],[106.8,3.6],[107.2,-1.2],[107.6,0.6],[108,-2.8],[108.4,1.6],[108.8,-0.3],[109.2,2.0],[109.6,-3.8],[110.1,1.4],[110.6,-0.6],[111.1,2.4],[111.5,-2.2],[112,0.0],[112.5,-1.1],[113,3.2],[113.5,-2.9],
[114,1.7],[114.5,-0.8],[115.2,-1.8],[115.8,1.0],[116.6,-2.4],[117.2,0.3]];
const ptsE3 = [[86.9,0.3],[87.7,3.0],[88.3,-1.1],[89.3,2.3],[89.9,-3.6],[90.6,0.2],[91.2,-1.9],[91.8,2.9],[92.5,-2.7],[93.1,1.0],[93.7,-0.6],[94.5,3.5],[95.1,0.1],[95.7,-2.9],[96.3,1.2],[96.7,-0.9],[97.2,-3.7],[97.6,2.4],[98,0.6],[98.6,-1.3],
[99.1,3.0],[99.5,-0.4],[100,-2.6],[100.4,0.8],[100.8,1.9],[101.2,-1.6],[101.6,0.3],[102.1,-3.4],[102.5,2.7],[102.9,-0.6],[103.3,0.9],[103.7,-2.0],[104.1,3.9],[104.6,-3.1],[105,1.1],[105.4,-1.2],[105.8,2.3],[106.2,-2.4],[106.6,0.2],[107,-0.4],
[107.4,2.3],[107.8,-3.8],[108.2,0.4],[108.6,3.0],[109,-0.8],[109.4,-4.2],[109.9,2.7],[110.4,0.5],[110.9,-2.9],[111.4,2.0],[111.8,-0.9],[112.3,1.5],[112.9,-3.6],[113.3,0.2],[113.8,-1.4],[114.3,2.4],[114.9,-2.2],[115.5,0.1],[116.2,-3.3],[116.9,1.9]];

const ptsF = [[82.2,-1.1],[83.5,1.9],[83.7,0.4],[83.8,5.3],[84,-1.7],[84.2,0.7],[84.5,1.9],[84.8,-1.5],[85,0.0],[85.5,5.6],[85.6,-0.6],[85.8,-2.0],[86,0.5],
[86.3,-2.9],[86.5,1.5],[86.7,-0.8],[86.9,2.7],[87.1,4.0],[87.3,-1.7],[87.4,5.2],[87.6,0.4],[87.8,-2.5],[88,1.3],[88.2,-3.9],[88.4,2.4],[88.6,-0.4],[88.8,-1.6],[89,1.9],[89.2,-2.6],[89.3,-6.4],[89.5,0.9],[89.7,2.9],[89.9,-0.9],
[90.1,-2.2],[90.3,3.3],[90.5,0.3],[90.7,-1.4],[90.9,1.6],[91.1,-3.3],[91.3,2.6],[91.5,-0.2],[91.7,3.7],[91.9,-2.0],[92.1,0.8],[92.2,-7.0],[92.4,-4.4],[92.6,6.5],[92.8,1.9],[93,-1.1],[93.1,-6.7],[93.2,3.1],[93.4,-3.6],[93.6,0.3],[93.8,4.6],[94,-2.5],[94.2,1.2],[94.4,-0.8],[94.5,6.8],[94.7,-4.4],[94.9,2.1],
[95.1,-1.7],[95.3,0.6],[95.5,5.1],[95.7,-3.0],[95.9,2.7],[96.1,-0.4],[96.3,1.3],[96.5,-5.8],[96.7,3.5],[96.9,-2.3],[97.1,0.9],[97.3,-1.2],[97.5,2.3],[97.8,7.2],[97.9,-3.9],[98.1,1.5],[98.3,-0.7],[98.5,4.0],[98.7,-1.9],[98.9,0.2],[99.1,-6.7],[99.3,2.9],[99.5,-2.8],[99.7,1.0],[99.9,-4.3],
[100.1,-0.9],[100.3,3.9],[100.5,-6.7],[100.7,1.7],[100.9,-2.0],[101.1,0.5],[101.3,6.4],[101.5,-3.3],[101.6,-6.2],[101.8,2.4],[102,-1.1],[102.2,1.3],[102.4,-4.0],[102.6,-7.0],[102.8,3.3],[103,-0.3],[103.2,1.9],[103.4,-2.4],[103.6,0.8],[103.8,4.3],[104,-3.5],[104.3,7.2],[104.5,1.2],[104.7,-1.6],[104.9,2.8],
[105.1,-5.4],[105.3,0.2],[105.5,-2.2],[105.7,3.5],[105.9,-0.6],[106,7.1],[106.2,1.6],[106.4,-3.0],[106.6,2.4],[106.8,-1.3],[107,6.7],[107.3,5.9],[107.1,-4.3],[107.4,0.9],[107.6,-2.0],[107.8,2.1],[108,-0.8],[108.2,-6.0],[108.4,6.7],[108.6,1.3],[108.8,-3.2],[109,-1.1],[109.2,4.9],[109.4,0.4],[109.6,-4.8],[109.8,2.3],[110,-1.9],
[110.2,1.0],[110.4,4.2],[110.6,-3.6],[110.9,-0.5],[111.1,2.0],[111.4,-5.4],[111.7,0.6],[112,-2.3],[112.3,2.4],[112.5,-5.8],[112.7,-0.6],[113,1.9],[113.3,-5.9],[113.5,-2.8],[113.7,0.3],[113.9,-6.2],[114.1,-1.4],[114.3,5.2],[114.4,3.5],[114.6,-3.9],[114.8,1.5],[115,4.9],[115.2,-6.1],
[115.4,-2.0],[115.7,0.5],[116,-1.5],[116.3,4.9],[116.5,-3.5],[116.7,-1.8],[117,-0.6],[117.3,-2.8],[117.5,-3.8],[117.8,-1.7],[119.1,0.7],[120.1,-3.4],[121.5,0.6],[122.1,-1.3],[122.6,-4.7]];
const ptsF2 = [[83.6,1.4],[84.6,-0.4],[85.4,1.1],[86.1,-1.2],[86.8,1.9],[87.5,-2.0],[88.1,0.4],[88.7,2.8],[89.4,-1.2],[90,0.6],[90.6,-2.8],[91.2,2.2],[91.8,-1.1],[92.3,0.1],[92.9,2.6],[93.5,-2.2],[94.1,0.9],[94.6,-1.6],[95.2,1.9],[95.8,-0.9],
[96.4,-3.6],[97,1.6],[97.6,-0.2],[98.2,2.9],[98.8,-2.5],[99.4,0.6],[99.9,-1.5],[100.4,1.2],[101,-3.8],[101.5,1.5],[102,0.3],[102.6,-1.7],[103.1,2.4],[103.7,-2.9],[104.2,0.0],[104.8,-0.9],[105.3,1.7],[105.8,-3.4],[106.3,0.6],[106.9,-0.4],
[107.4,2.6],[107.9,-1.4],[108.5,0.1],[109,-2.4],[109.5,1.4],[110.1,-0.8],[110.7,2.6],[111.2,-1.7],[111.8,-0.1],[112.4,1.0],[113,-1.3],[113.6,1.1],[114.2,-2.3],[115,0.2],[115.9,-2.6],[116.8,-1.1]];
const ptsF3 = [[84.9,1.0],[85.9,2.6],[86.6,-1.8],[87.2,0.9],[87.9,-0.9],[88.5,3.4],[89.1,-0.2],[89.8,-3.0],[90.4,1.9],[91,-0.6],[91.6,1.3],[92.2,-2.9],[92.7,3.8],[93.3,-0.3],[93.9,1.6],[94.4,-3.1],[95,0.0],[95.6,2.9],[96.2,-1.4],[96.8,0.4],
[97.4,-2.7],[98,2.0],[98.6,-0.6],[99.2,1.4],[99.8,-3.2],[100.3,0.7],[100.8,2.5],[101.4,-1.4],[101.9,0.0],[102.4,-2.6],[102.9,1.6],[103.5,-0.9],[104,2.2],[104.6,-2.1],[105.1,0.8],[105.6,-1.0],[106.1,3.2],[106.7,-2.5],[107.2,0.1],[107.7,-3.3],
[108.3,1.8],[108.9,-0.4],[109.4,2.9],[109.9,-2.9],[110.5,0.3],[111,-1.1],[111.6,1.4],[112.2,-3.4],[112.8,0.9],[113.4,-1.8],[114,1.9],[114.7,-0.9],[115.4,1.0],[116.2,-2.3],[117,0.2],[117.7,-2.3]];

const ptsG = [[81.3,-2.6],[83.3,4.9],[83.5,0.4],[83.6,2.6],[83.7,-5.3],[84,0.8],[84.2,-0.7],[84.4,-1.6],[84.7,6.1],[85,2.2],[85.3,0.1],[85.5,-1.5],[85.7,3.6],[85.9,-2.4],[86,1.0],
[86.2,-0.5],[86.4,4.0],[86.6,1.7],[86.8,-1.2],[87,2.9],[87.2,0.2],[87.4,5.6],[87.6,6.5],[87.8,-2.3],[88,1.0],[88.2,3.0],[88.4,-0.4],[88.6,-2.0],[88.8,4.0],[89,1.8],[89.2,-3.5],[89.4,0.3],[89.5,-5.7],[89.7,2.6],[89.9,-1.4],
[90.1,-2.1],[90.3,1.2],[90.5,3.4],[90.7,-0.6],[90.9,-4.6],[91.1,2.2],[91.3,0.5],[91.5,-2.0],[91.7,4.4],[91.9,-1.0],[92.1,1.8],[92.3,-3.3],[92.6,6.9],[92.8,-7.0],[92.9,0.0],[93.1,-5.9],[93.3,2.7],[93.5,-1.7],[93.7,5.6],[93.9,0.9],[94.1,-4.5],[94.3,3.0],[94.5,-2.7],[94.7,1.5],[94.9,-0.9],
[95.1,4.6],[95.3,-3.4],[95.5,6.4],[95.7,0.6],[95.9,-1.8],[96.1,2.6],[96.3,-7.2],[96.5,-0.2],[96.7,3.8],[96.9,-2.7],[97.1,1.3],[97.3,7.2],[97.5,-4.0],[97.7,0.4],[97.9,5.2],[98.1,-1.4],[98.3,2.2],[98.5,-3.4],[98.7,6.0],[98.9,0.0],[99.1,-2.3],[99.3,-7.3],[99.5,1.7],[99.7,7.0],[99.9,-0.8],
[100.1,-4.4],[100.3,2.7],[100.5,-1.8],[100.7,0.9],[100.9,4.0],[101.1,-3.0],[101.3,-0.4],[101.5,2.0],[101.7,-5.5],[101.9,1.0],[102.1,4.8],[102.3,-2.6],[102.5,-6.7],[102.7,0.4],[102.9,3.1],[103,-6.5],[103.2,-1.4],[103.4,5.1],[103.6,1.8],[103.8,-3.7],[104,0.2],[104.2,2.6],[104.4,-2.0],[104.6,-0.7],[104.8,3.8],
[105,-4.3],[105.3,1.2],[105.5,-6.2],[105.7,-1.2],[105.9,4.7],[106.1,0.3],[106.3,-2.6],[106.5,6.6],[106.5,-7.0],[106.7,2.5],[106.9,-0.7],[107.1,-4.9],[107.3,6.6],[107.5,1.5],[107.7,-2.1],[107.9,3.6],[108.1,-0.3],[108.3,-3.6],[108.5,2.1],[108.7,-5.6],[108.9,0.8],[109.1,-1.6],[109.3,4.4],[109.5,-3.2],[109.7,6.5],[109.9,1.1],
[110.1,-0.9],[110.3,2.5],[110.6,-5.9],[110.8,-2.1],[111,1.6],[111.3,-3.8],[111.5,3.7],[111.8,6.5],[112,-0.5],[112.2,-4.6],[112.5,1.3],[112.7,-5.6],[113,-1.9],[113.3,0.5],[113.6,-3.8],[113.9,1.0],[114.1,-6.0],[114.3,-2.3],[114.6,0.1],[114.9,-3.1],
[115.2,-1.2],[115.5,2.7],[115.8,-3.4],[116.1,-0.6],[116.3,3.3],[116.6,-2.3],[116.9,0.8],[117.2,3.1],[117.2,-2.9],[117.5,-1.4],[117.7,1.1],[118,-5.1],[118.2,3.1],[118.5,-2.8],[119.3,-0.2],[120.1,-3.3],[120.9,1.9],[121.7,-3.6],[123.3,-3.6]];
const ptsG2 = [[84.6,1.3],[85.6,-0.4],[86.5,2.4],[87.3,-1.9],[88.1,-0.9],[88.9,1.2],[89.6,-1.1],[90.2,2.1],[90.9,-2.7],[91.5,0.9],[92.1,-1.3],[92.7,2.9],[93.3,-0.5],[93.9,-2.5],[94.4,1.8],[95,-1.0],[95.6,3.1],[96.2,-2.4],[96.8,0.9],[97.4,-1.4],
[98,1.6],[98.6,-3.2],[99.2,0.6],[99.8,-1.6],[100.4,3.4],[101,-0.3],[101.6,-2.2],[102.2,1.7],[102.8,-1.1],[103.4,2.6],[104,-3.0],[104.6,0.9],[105.2,-2.1],[105.8,2.0],[106.4,-0.5],[107,1.1],[107.6,-3.1],[108.2,2.8],[108.8,-1.4],[109.4,0.2],
[110,-3.4],[110.6,1.9],[111.2,-0.6],[111.8,2.4],[112.4,-1.7],[113,1.6],[113.6,-2.5],[114.2,0.7],[115,-0.4],[115.8,-1.9],[116.6,1.2],[117.4,-3.6]];
const ptsG3 = [[85.1,-0.9],[86,0.3],[86.9,-3.0],[87.6,1.5],[88.3,-0.8],[89.1,2.3],[89.8,-2.6],[90.4,0.6],[91.1,-1.5],[91.7,1.2],[92.4,-0.2],[93,-3.6],[93.6,1.3],[94.2,-1.2],[94.8,2.4],[95.4,-2.1],[96,-0.7],[96.6,1.8],[97.2,-2.9],[97.8,2.7],
[98.4,-0.5],[99,1.1],[99.6,-3.9],[100.2,-0.3],[100.8,1.5],[101.4,-1.3],[102,2.5],[102.6,-3.4],[103.2,0.8],[103.8,-1.7],[104.4,1.0],[105,-2.7],[105.6,0.6],[106.2,2.9],[106.8,-3.3],[107.4,-0.4],[108,1.9],[108.6,-2.4],[109.2,1.2],[109.8,-0.6],
[110.4,-2.5],[111,2.6],[111.6,-1.2],[112.2,0.3],[112.8,-3.1],[113.4,1.0],[114,-0.8],[114.8,-2.6],[115.6,0.6],[116.4,-1.5],[117.2,-0.4],[118,1.3]];

const ptsH = [[81.5,1.3],[82.7,1.0],[82.9,-0.8],[83,-2.1],[83.1,-2.7],[83.6,3.4],[83.8,1.9],[84.3,4.2],[84.5,-0.7],[84.8,1.3],[85,-1.3],[85.2,0.6],[85.5,2.0],[85.7,-0.2],[86,3.3],
[86.2,-1.9],[86.4,0.9],[86.6,2.7],[86.8,-0.5],[87.1,4.6],[87.2,1.4],[87.4,-1.2],[87.6,0.3],[87.8,-2.6],[88,1.9],[88.2,-0.1],[88.4,-0.9],[88.6,2.2],[88.8,0.6],[89,3.4],[89.2,-1.6],[89.4,1.1],[89.6,-2.3],[89.8,-0.4],[90,1.6],
[90.1,4.9],[90.2,-2.9],[90.4,0.5],[90.6,2.6],[90.8,-4.1],[91,-1.1],[91.2,1.2],[91.4,3.6],[91.6,-0.2],[91.8,-2.0],[92,0.8],[92.2,2.1],[92.4,-0.8],[92.7,5.0],[92.8,1.4],[93,-3.4],[93.2,0.0],[93.4,2.8],[93.6,-1.5],[93.8,0.6],[94,-3.8],[94.2,1.9],[94.3,-4.7],[94.5,-0.6],[94.7,2.4],[94.9,-2.3],
[95.1,0.4],[95.3,3.6],[95.5,-1.1],[95.7,1.4],[95.9,-3.0],[96,-4.8],[96.1,0.2],[96.3,2.3],[96.5,-1.8],[96.7,-0.3],[96.9,1.1],[97.1,-2.6],[97.4,-5.3],[97.6,5.0],[97.7,5.7],[97.8,0.6],[98,3.9],[98.2,-1.3],[98.4,-3.4],[98.6,1.8],[98.8,-0.2],[99,2.3],[99.2,-2.1],[99.4,0.9],[99.6,-0.9],[99.8,5.0],[100,1.5],
[100.2,-3.4],[100.4,0.3],[100.6,2.6],[100.7,-4.8],[100.9,-1.0],[101.1,1.0],[101.3,-2.4],[101.5,3.4],[101.7,-4.8],[101.8,0.0],[102,-1.6],[102.2,2.1],[102.4,-0.6],[102.6,0.8],[102.8,-3.0],[103,3.2],[103.2,-1.1],[103.4,1.7],[103.6,-2.0],[103.8,-0.3],[104,2.6],[104.3,-5.6],[104.4,3.8],[104.6,0.5],[104.8,-1.4],
[105,1.5],[105.2,-2.8],[105.4,2.4],[105.6,-0.7],[105.8,0.9],[106,-3.5],[106.2,2.0],[106.4,-1.2],[106.6,0.2],[106.9,-4.5],[107,-4.8],[107.1,1.3],[107.3,-1.9],[107.5,2.8],[107.7,-0.4],[107.9,-2.8],[108.1,0.7],[108.3,-1.4],[108.5,1.9],[108.7,-3.1],[108.9,-0.7],[109.1,0.8],[109.3,5.0],[109.6,4.2],[109.8,-1.8],
[110,0.4],[110.3,-3.8],[110.5,1.5],[110.8,-0.9],[111,2.1],[111.3,-2.2],[111.7,4.6],[111.8,0.1],[112,-1.4],[112.3,1.7],[112.6,-0.6],[112.9,2.8],[113.2,-2.3],[113.5,2.8],[113.8,-0.1],[114.1,-1.6],[114.4,1.2],[114.7,-3.6],[115,0.7],
[115.3,-2.7],[115.6,1.1],[115.9,3.1],[116.1,-0.5],[116.4,1.0],[116.8,-4.5],[117,-1.8],[117.3,3.0],[117.6,0.6],[118,-2.9],[118.3,2.5],[118.8,1.5],[119.5,-0.9],[120.2,4.4],[120.2,-2.3],[120.6,0.0],[121.8,-1.6],[122.4,3.1],[123.5,-2.1],[124.8,-3.2]];
const ptsH2 = [[83.4,0.6],[84.2,-0.2],[85.1,1.6],[85.9,-0.7],[86.7,0.3],[87.4,2.1],[88.1,-1.7],[88.9,0.9],[89.5,-0.9],[90.3,1.7],[90.9,-1.8],[91.5,0.4],[92.1,-1.3],[92.6,1.6],[93.3,-2.4],[93.9,1.2],[94.4,-0.3],[95,2.6],[95.6,-2.2],[96.2,0.9],
[96.8,-1.1],[97.3,2.0],[97.9,-0.7],[98.5,0.2],[99.1,-2.8],[99.7,1.1],[100.3,-0.6],[100.9,2.0],[101.4,-1.5],[102,0.5],[102.5,-2.6],[103.1,1.3],[103.7,-0.8],[104.2,0.9],[104.8,-2.0],[105.3,0.2],[105.9,1.9],[106.4,-1.7],[107,0.6],[107.6,-0.9],
[108.2,1.3],[108.7,-2.2],[109.3,-0.2],[109.9,1.5],[110.4,-1.2],[110.9,0.8],[111.5,-2.6],[112.1,0.9],[112.7,-0.4],[113.3,1.4],[113.9,-1.1],[114.6,2.1],[115.3,-0.9],[116,0.3],[116.7,-2.0],[117.5,1.1]];
const ptsH3 = [[84,1.0],[84.9,-1.6],[85.7,0.9],[86.5,-1.0],[87.3,0.6],[88,2.6],[88.7,-1.4],[89.3,0.0],[90,-0.9],[90.7,0.9],[91.3,-1.9],[91.9,1.6],[92.5,-0.3],[93.1,2.2],[93.7,-2.6],[94.3,0.3],[94.8,-1.3],[95.4,1.0],[96,-0.8],[96.5,1.9],
[97,-2.0],[97.6,0.2],[98.1,-0.9],[98.7,1.3],[99.3,-1.6],[99.9,0.3],[100.5,1.1],[101,-1.9],[101.6,0.6],[102.1,-0.8],[102.7,1.8],[103.3,-2.3],[103.9,0.2],[104.5,1.3],[105.1,-1.1],[105.7,0.4],[106.3,-2.2],[106.8,1.1],[107.4,-0.2],[108,-1.9],
[108.6,0.9],[109.2,-0.9],[109.7,2.2],[110.2,-1.6],[110.7,-0.3],[111.3,1.1],[111.9,-1.9],[112.5,0.5],[113.1,-0.9],[113.7,1.8],[114.3,-2.8],[115.1,-0.4],[115.8,1.7],[116.6,-1.1],[117.4,-0.1],[118.2,-1.6]];

const pointSets = [ptsA.concat(ptsA2, ptsA3), ptsB.concat(ptsB2, ptsB3), ptsC.concat(ptsC2, ptsC3), ptsD.concat(ptsD2, ptsD3),
                   ptsE.concat(ptsE2, ptsE3), ptsF.concat(ptsF2, ptsF3), ptsG.concat(ptsG2, ptsG3), ptsH.concat(ptsH2, ptsH3)];
const regLines = [regA, regB, regC, regD, regE, regF, regG, regH];

// ---------- LAYOUT (pixels) ----------
const layout = [
 {left:50, top:6,   width:311, height:170, lm:10, ng:21, yng:26, sd:11, lx:3,   ly:3},
 {left:424,top:6,   width:308, height:170, lm:10, ng:21, yng:25, sd:8,  lx:377, ly:3},
 {left:48, top:236, width:312, height:163, lm:3,  ng:18, yng:26, sd:12, lx:3,   ly:233},
 {left:424,top:234, width:308, height:164, lm:4,  ng:18, yng:26, sd:4,  lx:376, ly:234},
 {left:48, top:458, width:312, height:167, lm:6,  ng:20, yng:26, sd:6,  lx:3,   ly:450},
 {left:424,top:458, width:308, height:166, lm:6,  ng:21, yng:25, sd:11, lx:378, ly:450},
 {left:48, top:683, width:312, height:169, lm:8,  ng:24, yng:26, sd:9,  lx:2,   ly:673},
 {left:424,top:683, width:308, height:169, lm:8,  ng:24, yng:26, sd:5,  lx:381, ly:675}
];

const FONT = '"Liberation Sans", Arial, Helvetica, sans-serif';
const chart = echarts.init(document.getElementById('c'), null, {renderer:'canvas'});
const option = {animation:false, backgroundColor:'#fff', grid:[], xAxis:[], yAxis:[], series:[], graphic:[]};
const lblStyle = {color:'#404040', fontSize:11, fontFamily:FONT};

letters.forEach((L, i) => {
  const g = layout[i];
  const sd = parseFloat(sdLabels[i]);
  option.grid.push({left:g.left, top:g.top, width:g.width, height:g.height});
  option.xAxis.push({
    gridIndex:i, type:'value', min:xRanges[i][0], max:xRanges[i][1], interval:10,
    axisLine:{show:false}, axisTick:{show:false}, splitLine:{show:false},
    axisLabel:{color:'#262626', fontSize:12, fontFamily:FONT, margin:g.lm},
    name:xTitles[i], nameLocation:'middle', nameGap:g.ng,
    nameTextStyle:{fontWeight:'bold', fontSize:10.5, color:'#262626', fontFamily:FONT}
  });
  option.yAxis.push({
    gridIndex:i, type:'value', min:yRange[0], max:yRange[1], interval:2,
    axisLine:{show:true, onZero:false, lineStyle:{color:'#a6a6a6', width:1}},
    axisTick:{show:false}, splitLine:{show:false},
    axisLabel:{color:'#262626', fontSize:12, fontFamily:FONT, margin:(i%2===0?10:7)},
    name:yTitles[i], nameLocation:'middle', nameGap:g.yng,
    nameTextStyle:{fontWeight:'bold', fontSize:10.5, lineHeight:11, color:'#262626', fontFamily:FONT}
  });
  const dashed = {type:[4,3], color:'#000', width:1};
  const hidden = {color:'rgba(0,0,0,0)', width:1, type:'solid'};
  option.series.push({
    type:'scatter', xAxisIndex:i, yAxisIndex:i, data:pointSets[i],
    symbol:'diamond', symbolSize:6.5, itemStyle:{color:'#000'}, z:3, large:false,
    markLine:{silent:true, symbol:['none','none'], z:2, label:Object.assign({show:true}, lblStyle),
      data:[
        {yAxis:sd, lineStyle:dashed, label:Object.assign({position:'insideEndTop', formatter:upperLabels[i], distance:4}, lblStyle)},
        {yAxis:sd, lineStyle:hidden, label:Object.assign({position:'insideEndBottom', formatter:sdLabels[i], distance:1}, lblStyle)},
        {yAxis:0, lineStyle:{type:'solid', color:'#9a9a9a', width:1.2}, label:Object.assign({position:'insideEndTop', formatter:meanLabel, distance:4}, lblStyle)},
        {yAxis:0, lineStyle:hidden, label:Object.assign({position:'insideEndBottom', formatter:slopeLabels[i], distance:g.sd}, lblStyle)},
        {yAxis:-sd, lineStyle:dashed, label:Object.assign({position:'insideEndTop', formatter:lowerLabels[i], distance:4}, lblStyle)},
        {yAxis:-sd, lineStyle:hidden, label:Object.assign({position:'insideEndBottom', formatter:'-' + sdLabels[i], distance:1}, lblStyle)}
      ]}
  });
  option.series.push({
    type:'line', xAxisIndex:i, yAxisIndex:i, data:regLines[i], symbol:'none',
    lineStyle:{color:'#3a3a3a', width:1}, z:4, silent:true
  });
  option.graphic.push({type:'text', left:g.lx, top:g.ly, z:10,
    style:{text:L, font:'bold 15px ' + FONT, fill:'#000'}});
});

chart.setOption(option);
</script>
</body></html>
